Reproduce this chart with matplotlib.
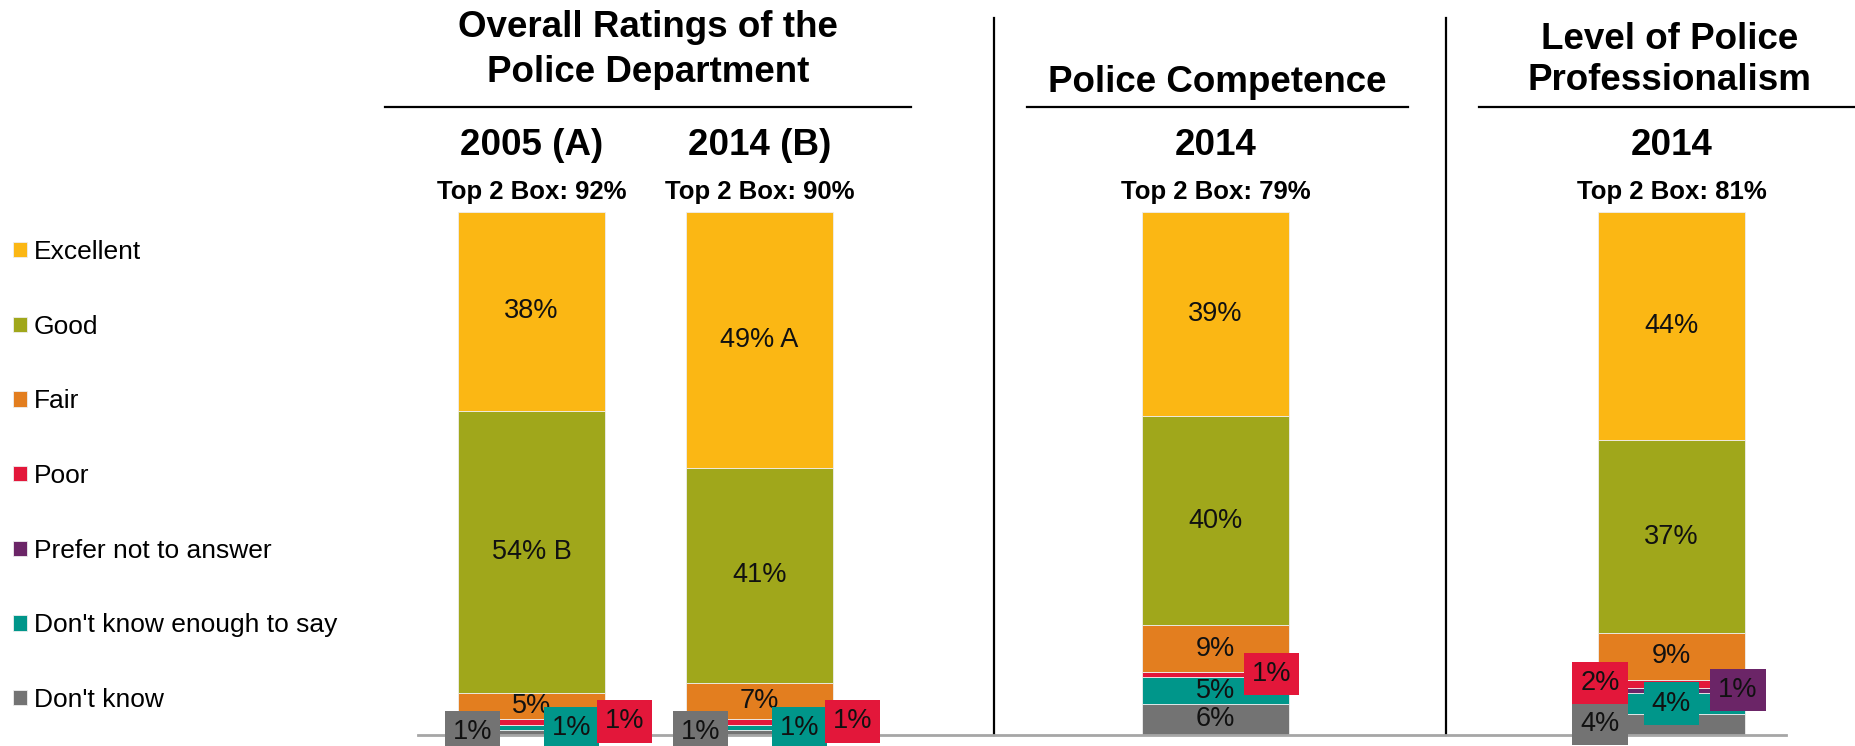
import matplotlib
matplotlib.use('Agg')
import matplotlib.pyplot as plt

plt.rcParams['font.family'] = ['Liberation Sans', 'DejaVu Sans']

# data
categories = ['Excellent', 'Good', 'Fair', 'Poor', 'Prefer not to answer',
              "Don't know enough to say", "Don't know"]
colors = ['#FBB714', '#A0A71B', '#E37E1F', '#E3173A', '#6B2567', '#00968A', '#737373']
bar_names = ['2005 (A)', '2014 (B)', '2014', '2014']
top2 = [92, 90, 79, 81]
excellent = [38, 49, 39, 43.6]
good = [54, 41, 40, 36.9]
fair = [5, 7, 9, 8.9]
poor = [1, 1, 1, 1.6]
prefer = [0, 0, 0, 1.0]
dk_enough = [1, 1, 5, 4.0]
dont_know = [1, 1, 6, 4.0]
excellent_sig = ['', 'A', '', '']
good_sig = ['B', '', '', '']
panel_titles = [['Overall Ratings of the', 'Police Department'],
                ['Police Competence'],
                ['Level of Police', 'Professionalism']]

series = [excellent, good, fair, poor, prefer, dk_enough, dont_know]
sigs = [excellent_sig, good_sig, [''] * 4, [''] * 4, [''] * 4, [''] * 4, [''] * 4]

# layout
xpos = [0, 1, 3, 5]
bar_w = 0.645
# small segments get a boxed label shifted next to the bar: (series index, bar) -> (dx, y)
callouts = {
    (6, 0): (-0.259, 0.6), (5, 0): (0.175, 1.3), (3, 0): (0.408, 2.6),
    (6, 1): (-0.259, 0.6), (5, 1): (0.175, 1.3), (3, 1): (0.408, 2.6),
    (3, 2): (0.246, 11.7),
    (6, 3): (-0.314, 2.1), (5, 3): (0.0, 6.0), (4, 3): (0.292, 8.6), (3, 3): (-0.314, 10.0),
}

fig = plt.figure(figsize=(18.55, 7.46), dpi=100)
ax = fig.add_axes([417.5 / 1855, 11 / 746, 1368 / 1855, 523 / 746])
ax.set_xlim(-0.5, 5.5)
ax.set_ylim(0, 100)
for s in ['top', 'left', 'right']:
    ax.spines[s].set_visible(False)
ax.spines['bottom'].set_color('#a6a6a6')
ax.spines['bottom'].set_linewidth(2)
ax.set_xticks([])
ax.set_yticks([])

# stack from the bottom (Don't know) up to Excellent
order = list(range(len(series)))[::-1]
bottoms = [0.0] * len(xpos)
handles = {}
for k in order:
    vals = series[k]
    bars = ax.bar(xpos, vals, bar_w, bottom=bottoms, color=colors[k],
                  edgecolor='#eeeeee', linewidth=0.6, label=categories[k])
    handles[k] = bars
    for i, v in enumerate(vals):
        if v <= 0:
            continue
        txt = '{:.0f}%'.format(v)
        if sigs[k][i]:
            txt += ' ' + sigs[k][i]
        if (k, i) in callouts:
            dx, y = callouts[(k, i)]
            ax.text(xpos[i] + dx, y, txt, ha='center', va='center', fontsize=19.5,
                    color='#111111', zorder=5, clip_on=False,
                    bbox=dict(boxstyle='square,pad=0.3', fc=colors[k], ec='none'))
        else:
            ax.text(xpos[i], bottoms[i] + v / 2, txt, ha='center', va='center',
                    fontsize=19.5, color='#111111', zorder=4)
    bottoms = [b + v for b, v in zip(bottoms, vals)]

# column headers
for i, name in enumerate(bar_names):
    ax.text(xpos[i], 110.9, name, ha='center', va='baseline', fontsize=26.5,
            fontweight='bold', clip_on=False)
    ax.text(xpos[i], 102.5, 'Top 2 Box: {}%'.format(top2[i]), ha='center',
            va='baseline', fontsize=18.5, fontweight='bold', clip_on=False)

# panel titles and rules
title_x = [0.511, 3.009, 4.993]
title_y = [[133.5, 124.9], [122.9], [131.1, 123.3]]
rules = [(-0.643, 1.664), (2.173, 3.844), (4.156, 5.805)]
for t, lines in enumerate(panel_titles):
    for line, y in zip(lines, title_y[t]):
        ax.text(title_x[t], y, line, ha='center', va='baseline', fontsize=26.5,
                fontweight='bold', clip_on=False)
    ax.plot(rules[t], [120.0, 120.0], color='black', lw=1.6, clip_on=False)

for x in [2.028, 4.011]:
    ax.plot([x, x], [0, 137.1], color='black', lw=1.6, clip_on=False)

fig.legend([handles[k] for k in range(len(categories))], categories,
           loc='upper left', bbox_to_anchor=(13 / 1855, 1 - 240 / 746),
           frameon=False, fontsize=19, handlelength=0.53, handleheight=0.53,
           handletextpad=0.25, labelspacing=1.92, borderpad=0, borderaxespad=0)

fig.savefig('out.png', dpi=100)
